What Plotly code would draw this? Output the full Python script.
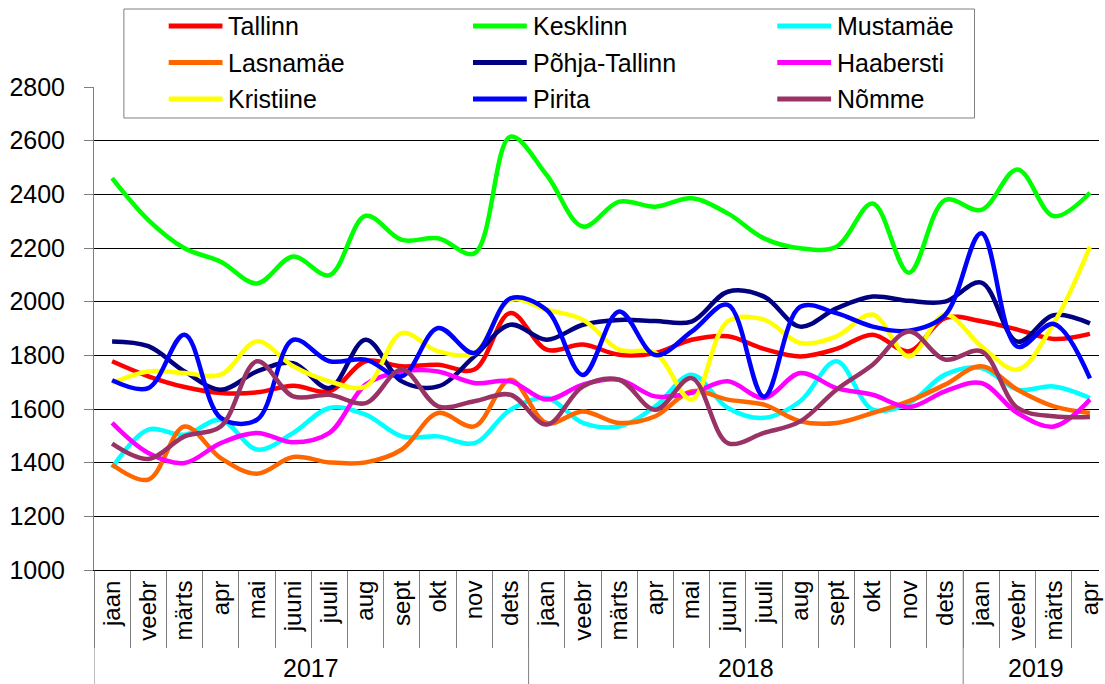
import plotly.graph_objects as go

months = ['jaan', 'veebr', 'märts', 'apr', 'mai', 'juuni', 'juuli', 'aug', 'sept', 'okt', 'nov', 'dets']
years = ['2017', '2018', '2019']
year_counts = [12, 12, 4]
labels = [m for n in year_counts for m in months[:n]]

tallinn = [1778, 1722, 1682, 1660, 1662, 1687, 1666, 1778, 1759, 1765, 1747, 1958,
           1821, 1840, 1802, 1809, 1858, 1871, 1824, 1796, 1824, 1877, 1815, 1939,
           1927, 1896, 1861, 1880]
kesklinn = [2460, 2304, 2199, 2149, 2068, 2168, 2099, 2320, 2230, 2236, 2180, 2615,
            2472, 2280, 2373, 2354, 2385, 2329, 2236, 2199, 2205, 2366, 2108, 2379,
            2342, 2493, 2319, 2406]
mustamae = [1380, 1523, 1504, 1560, 1449, 1511, 1604, 1579, 1498, 1498, 1473, 1597,
            1641, 1548, 1535, 1610, 1728, 1604, 1567, 1629, 1778, 1598, 1622, 1728,
            1753, 1672, 1684, 1641]
lasnamae = [1393, 1337, 1535, 1417, 1359, 1421, 1401, 1401, 1449, 1585, 1535, 1709,
            1548, 1591, 1548, 1573, 1666, 1635, 1616, 1554, 1548, 1585, 1629, 1691,
            1759, 1672, 1610, 1585]
pohja = [1852, 1834, 1740, 1672, 1740, 1771, 1678, 1858, 1703, 1684, 1796, 1914,
         1858, 1914, 1932, 1928, 1926, 2037, 2019, 1907, 1975, 2019, 2003, 2000,
         2071, 1851, 1950, 1919]
haabersti = [1548, 1436, 1399, 1473, 1511, 1476, 1511, 1691, 1740, 1740, 1697, 1703,
             1635, 1691, 1709, 1647, 1660, 1703, 1641, 1734, 1678, 1653, 1607, 1666,
             1697, 1585, 1535, 1635]
kristiine = [1697, 1740, 1734, 1728, 1852, 1759, 1703, 1684, 1883, 1815, 1809, 2006,
             1970, 1933, 1821, 1809, 1635, 1927, 1933, 1846, 1871, 1952, 1796, 1952,
             1834, 1747, 1919, 2205]
pirita = [1707, 1678, 1877, 1567, 1560, 1858, 1778, 1784, 1722, 1902, 1809, 2012,
          1969, 1727, 1963, 1801, 1888, 1988, 1646, 1981, 1957, 1907, 1892, 1950,
          2255, 1832, 1917, 1714]
nomme = [1471, 1414, 1498, 1535, 1778, 1647, 1653, 1622, 1747, 1610, 1629, 1653,
         1542, 1684, 1709, 1597, 1715, 1473, 1511, 1554, 1672, 1765, 1889, 1784,
         1815, 1604, 1573, 1570]

series = [
    ('Tallinn', tallinn, '#FF0000'),
    ('Kesklinn', kesklinn, '#00FF00'),
    ('Mustamäe', mustamae, '#00FFFF'),
    ('Lasnamäe', lasnamae, '#FF6600'),
    ('Põhja-Tallinn', pohja, '#000080'),
    ('Haabersti', haabersti, '#FF00FF'),
    ('Kristiine', kristiine, '#FFFF00'),
    ('Pirita', pirita, '#0000FF'),
    ('Nõmme', nomme, '#993366'),
]

FONT = 'Liberation Sans, Arial, sans-serif'
W, H = 1105, 684
ML, MR, MT, MB = 94, 2, 87, 114
PW, PH = W - ML - MR, H - MT - MB


def px(xp):
    return (xp - ML) / PW


def py(yp):
    return (H - MB - yp) / PH


x = list(range(len(labels)))

fig = go.Figure()
for name, vals, color in series:
    fig.add_trace(go.Scatter(x=x, y=vals, name=name, mode='lines',
                             line=dict(color=color, width=4.5, shape='spline', smoothing=1)))

# year group dividers and labels
div = dict(color='#808080', width=1)
shapes = [dict(type='line', xref='x', yref='paper', x0=-0.5, x1=-0.5, y0=0, y1=py(H), line=div)]
annotations = []
start = 0
for yr, n in zip(years, year_counts):
    end = start + n
    if start > 0:
        shapes.append(dict(type='line', xref='x', yref='paper', x0=start - 0.5, x1=start - 0.5,
                           y0=0, y1=py(H), line=div))
    annotations.append(dict(x=(start + end - 1) / 2, y=py(668), xref='x', yref='paper',
                            text=yr, showarrow=False, yanchor='middle',
                            font=dict(size=25, color='black', family=FONT)))
    start = end

# legend box drawn by hand: 3 columns x 3 rows
shapes.append(dict(type='rect', xref='paper', yref='paper', x0=px(124), x1=px(978),
                   y0=py(118), y1=py(9), line=dict(color='#808080', width=1),
                   fillcolor='white', layer='above'))
for k, (name, vals, color) in enumerate(series):
    cx = 169 + 305.5 * (k % 3)
    cy = 26 + 36.5 * (k // 3)
    shapes.append(dict(type='line', xref='paper', yref='paper', x0=px(cx), x1=px(cx + 54),
                       y0=py(cy), y1=py(cy), line=dict(color=color, width=5), layer='above'))
    annotations.append(dict(x=px(cx + 58), y=py(cy), xref='paper', yref='paper', text=name,
                            showarrow=False, xanchor='left', yanchor='middle',
                            font=dict(size=25, color='black', family=FONT)))

fig.update_layout(
    width=W, height=H,
    margin=dict(l=ML, r=MR, t=MT, b=MB),
    paper_bgcolor='white', plot_bgcolor='white',
    font=dict(family=FONT, color='black'),
    showlegend=False,
    xaxis=dict(range=[-0.5, 27.25], tickmode='array', tickvals=x, ticktext=labels,
               tickangle=-90, ticks='', showgrid=False, zeroline=False,
               showline=True, linecolor='black', linewidth=1, ticklabeloverflow='allow',
               tickfont=dict(size=24, family=FONT),
               minor=dict(tick0=-0.5, dtick=1, ticks='outside', ticklen=77,
                          tickcolor='#808080', tickwidth=1, showgrid=False)),
    yaxis=dict(range=[1000, 2800], dtick=200, ticks='outside', ticklen=9,
               tickcolor='#808080', showline=True, linecolor='#808080', linewidth=1,
               gridcolor='black', gridwidth=1, zeroline=False,
               tickfont=dict(size=25, family=FONT), ticklabelstandoff=14),
    shapes=shapes,
    annotations=annotations,
)

fig.write_html('out.html', config={'displayModeBar': False},
               post_script="document.body.style.margin = '0';")
